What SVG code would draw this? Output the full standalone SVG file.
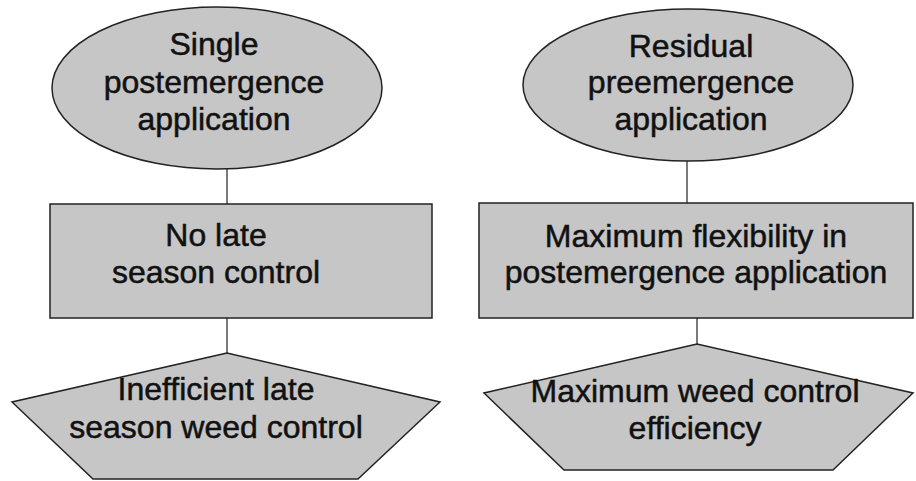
<svg xmlns="http://www.w3.org/2000/svg" width="916" height="481" viewBox="0 0 916 481">
<style>
.shape{fill:#c6c6c6;stroke:#222;stroke-width:1.5}
.lbl{font-family:"Liberation Sans",Arial,sans-serif;font-size:32px;fill:#111;stroke:#111;stroke-width:0.5;text-anchor:middle}
.conn line{stroke:#222;stroke-width:1.2}
</style>
<rect width="916" height="481" fill="#fff"/>
<g class="conn" id="connectors">
<line x1="227" y1="169" x2="227" y2="204"/>
<line x1="227" y1="318" x2="227" y2="353"/>
<line x1="687" y1="161" x2="687" y2="203"/>
<line x1="697" y1="318" x2="697" y2="344"/>
</g>
<g id="n1">
<ellipse class="shape" cx="217" cy="88" rx="165" ry="81"/>
<text class="lbl" x="214" y="55">Single</text>
<text class="lbl" x="214" y="93">postemergence</text>
<text class="lbl" x="214" y="130">application</text>
</g>
<g id="n2">
<rect class="shape" x="50" y="204" width="382" height="114"/>
<text class="lbl" x="216" y="246">No late</text>
<text class="lbl" x="216" y="283">season control</text>
</g>
<g id="n3">
<polygon class="shape" points="227,353 12,402 93,479 358,479 440,402"/>
<text class="lbl" x="216" y="400">Inefficient late</text>
<text class="lbl" x="216" y="438">season weed control</text>
</g>
<g id="n4">
<ellipse class="shape" cx="688" cy="85" rx="165" ry="76"/>
<text class="lbl" x="691" y="57">Residual</text>
<text class="lbl" x="691" y="93">preemergence</text>
<text class="lbl" x="691" y="130">application</text>
</g>
<g id="n5">
<rect class="shape" x="479" y="203" width="434" height="115"/>
<text class="lbl" x="696" y="247">Maximum flexibility in</text>
<text class="lbl" x="696" y="283">postemergence application</text>
</g>
<g id="n6">
<polygon class="shape" points="697,344 484,393 564,470 833,470 913,393"/>
<text class="lbl" x="695" y="402">Maximum weed control</text>
<text class="lbl" x="695" y="439">efficiency</text>
</g>
</svg>
